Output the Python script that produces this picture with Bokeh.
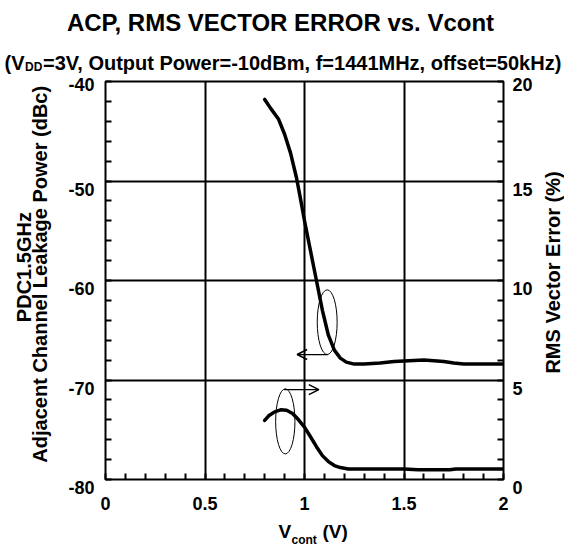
import numpy as np
from bokeh.plotting import figure
from bokeh.layouts import column, row
from bokeh.models import Range1d, LinearAxis, FixedTicker, Label, Arrow, OpenHead
from bokeh.embed import file_html
from bokeh.resources import INLINE

# ---------------- data ----------------
acp_v = [0.80, 0.83, 0.87, 0.90, 0.93, 0.96, 0.98, 1.00, 1.03, 1.06, 1.09, 1.12,
         1.15, 1.18, 1.21, 1.25, 1.30, 1.38, 1.45, 1.50, 1.60, 1.70, 1.75, 1.80, 2.00]
acp_db = [-41.8, -42.7, -43.8, -45.3, -47.2, -49.7, -51.8, -54.0, -57.0, -60.0, -63.0, -65.5,
          -67.0, -67.8, -68.2, -68.4, -68.4, -68.3, -68.15, -68.1, -68.0, -68.15, -68.3, -68.4, -68.4]

rms_v = [0.80, 0.82, 0.85, 0.88, 0.91, 0.94, 0.97, 1.00, 1.03, 1.06, 1.09, 1.12,
         1.15, 1.18, 1.22, 1.30, 1.50, 1.57, 1.73, 1.76, 2.00]
rms_pct = [2.97, 3.2, 3.4, 3.5, 3.48, 3.32, 3.0, 2.63, 2.15, 1.65, 1.2, 0.9,
           0.7, 0.6, 0.53, 0.53, 0.53, 0.49, 0.49, 0.53, 0.53]

x_ticks = [0, 0.5, 1, 1.5, 2]
x_tick_labels = ["0", "0.5", "1", "1.5", "2"]
x_minor = [round(0.1 * i, 1) for i in range(21)]
acp_ticks = [-80, -70, -60, -50, -40]
acp_tick_labels = ["-80", "-70", "-60", "-50", "-40"]
acp_minor = list(range(-80, -39, 2))
rms_ticks = [0, 5, 10, 15, 20]
rms_tick_labels = ["0", "5", "10", "15", "20"]
rms_minor = list(range(0, 21, 1))

title_text = "ACP, RMS VECTOR ERROR vs. Vcont"
sub_pre, sub_sub, sub_post = "(V", "DD", "=3V, Output Power=-10dBm, f=1441MHz, offset=50kHz)"
ylabel_1 = "PDC1.5GHz"
ylabel_2 = "Adjacent Channel Leakage Power (dBc)"
y2label = "RMS Vector Error (%)"
xlabel_pre, xlabel_sub, xlabel_post = "V", "cont", "(V)"

FONT = "Liberation Sans"
W, TOP_H, MID_H, BOT_H = 564, 74, 446, 27
LEFT_W, RIGHT_W = 60, 24
MAIN_W = W - LEFT_W - RIGHT_W


def blank(w, h):
    f = figure(width=w, height=h, x_range=Range1d(0, w), y_range=Range1d(h, 0),
               output_backend="svg", toolbar_location=None, min_border=0,
               x_axis_type=None, y_axis_type=None)
    f.outline_line_color = None
    f.background_fill_color = "white"
    f.border_fill_color = "white"
    return f


def lab(f, x, y, text, size, align="left", angle=0):
    # (x, y): pixel position inside the strip, y measured from its top,
    # at the vertical middle of the text
    f.add_layout(Label(x=x, y=y, text=text, text_font=FONT, text_font_style="bold",
                       text_font_size=size, text_align=align, text_baseline="middle",
                       text_color="black", angle=angle))


# ---------------- main figure ----------------
p = figure(width=MAIN_W, height=MID_H, output_backend="svg", toolbar_location=None,
           x_range=Range1d(0, 2), y_range=Range1d(-80, -40),
           min_border_left=45, min_border_right=37, min_border_top=7, min_border_bottom=41)
p.extra_y_ranges = {"rms": Range1d(0, 20)}
p.background_fill_color = "white"
p.border_fill_color = "white"
p.outline_line_color = "black"
p.outline_line_width = 2


def style_axis(ax, standoff):
    ax.axis_line_color = None
    ax.major_tick_in = 0
    ax.major_tick_out = 0
    ax.minor_tick_in = 6
    ax.minor_tick_out = 0
    ax.minor_tick_line_color = "black"
    ax.minor_tick_line_width = 2
    ax.major_label_text_font = FONT
    ax.major_label_text_font_style = "bold"
    ax.major_label_text_font_size = "18px"
    ax.major_label_text_color = "black"
    ax.major_label_standoff = standoff


def lowered(ticks, labels):
    # labels sit a little below their tick, as in the original; the top one stays put
    return {t: (s if t == max(ticks) else "\n" + s) for t, s in zip(ticks, labels)}


p.xaxis.ticker = FixedTicker(ticks=x_ticks, minor_ticks=x_minor)
p.xaxis.major_label_overrides = dict(zip(x_ticks, x_tick_labels))
style_axis(p.xaxis[0], 17)

p.yaxis.ticker = FixedTicker(ticks=acp_ticks, minor_ticks=acp_minor)
p.yaxis.major_label_overrides = lowered(acp_ticks, acp_tick_labels)
style_axis(p.yaxis[0], 11)
p.yaxis.major_label_text_line_height = 0.85

rax = LinearAxis(y_range_name="rms", ticker=FixedTicker(ticks=rms_ticks, minor_ticks=rms_minor))
rax.major_label_overrides = lowered(rms_ticks, rms_tick_labels)
style_axis(rax, 9)
rax.major_label_text_line_height = 0.85
p.add_layout(rax, "right")

p.xgrid.ticker = FixedTicker(ticks=x_ticks)
p.ygrid.ticker = FixedTicker(ticks=acp_ticks)
for g in (p.xgrid[0], p.ygrid[0]):
    g.grid_line_color = "black"
    g.grid_line_width = 2
    g.grid_line_alpha = 1

p.line(acp_v, acp_db, line_color="black", line_width=3.5, line_join="round", line_cap="round")
p.line(rms_v, rms_pct, line_color="black", line_width=3.5, line_join="round", line_cap="round",
       y_range_name="rms")

p.ellipse(x=[1.114], y=[-64.19], width=[0.10], height=[6.5],
          fill_color=None, line_color="black", line_width=1)
p.add_layout(Arrow(x_start=1.117, y_start=-67.44, x_end=0.963, y_end=-67.44,
                   line_width=1.2, end=OpenHead(size=10, line_width=1.5)))
p.ellipse(x=[0.9035], y=[2.92], width=[0.097], height=[3.27],
          fill_color=None, line_color="black", line_width=1, y_range_name="rms")
p.add_layout(Arrow(x_start=0.897, y_start=4.52, x_end=1.072, y_end=4.52, y_range_name="rms",
                   line_width=1.2, end=OpenHead(size=10, line_width=1.5)))

# ---------------- title strip ----------------
top = blank(W, TOP_H)
lab(top, 280, 22.4, title_text, "24px", align="center")
lab(top, 4, 62.0, sub_pre, "20px")
lab(top, 24.5, 66.6, sub_sub, "12px")
lab(top, 42.5, 62.0, sub_post, "20px")

# ---------------- side strips ----------------
left = blank(LEFT_W, MID_H)
lab(left, 23, 282 - TOP_H, ylabel_1, "20px", align="center", angle=np.pi / 2)
lab(left, 39, 290 - TOP_H, ylabel_2, "20px", align="center", angle=np.pi / 2)

right = blank(RIGHT_W, MID_H)
lab(right, 12, 288 - TOP_H, y2label, "20px", align="center", angle=np.pi / 2)

# ---------------- bottom strip ----------------
y0 = TOP_H + MID_H
bottom = blank(W, BOT_H)
lab(bottom, 278, 530.5 - y0, xlabel_pre, "19px")
lab(bottom, 291, 539.6 - y0, xlabel_sub, "12px")
lab(bottom, 322, 530.5 - y0, xlabel_post, "19px")

layout = column(top, row(left, p, right), bottom)
open("out.html", "w").write(file_html(layout, INLINE))
